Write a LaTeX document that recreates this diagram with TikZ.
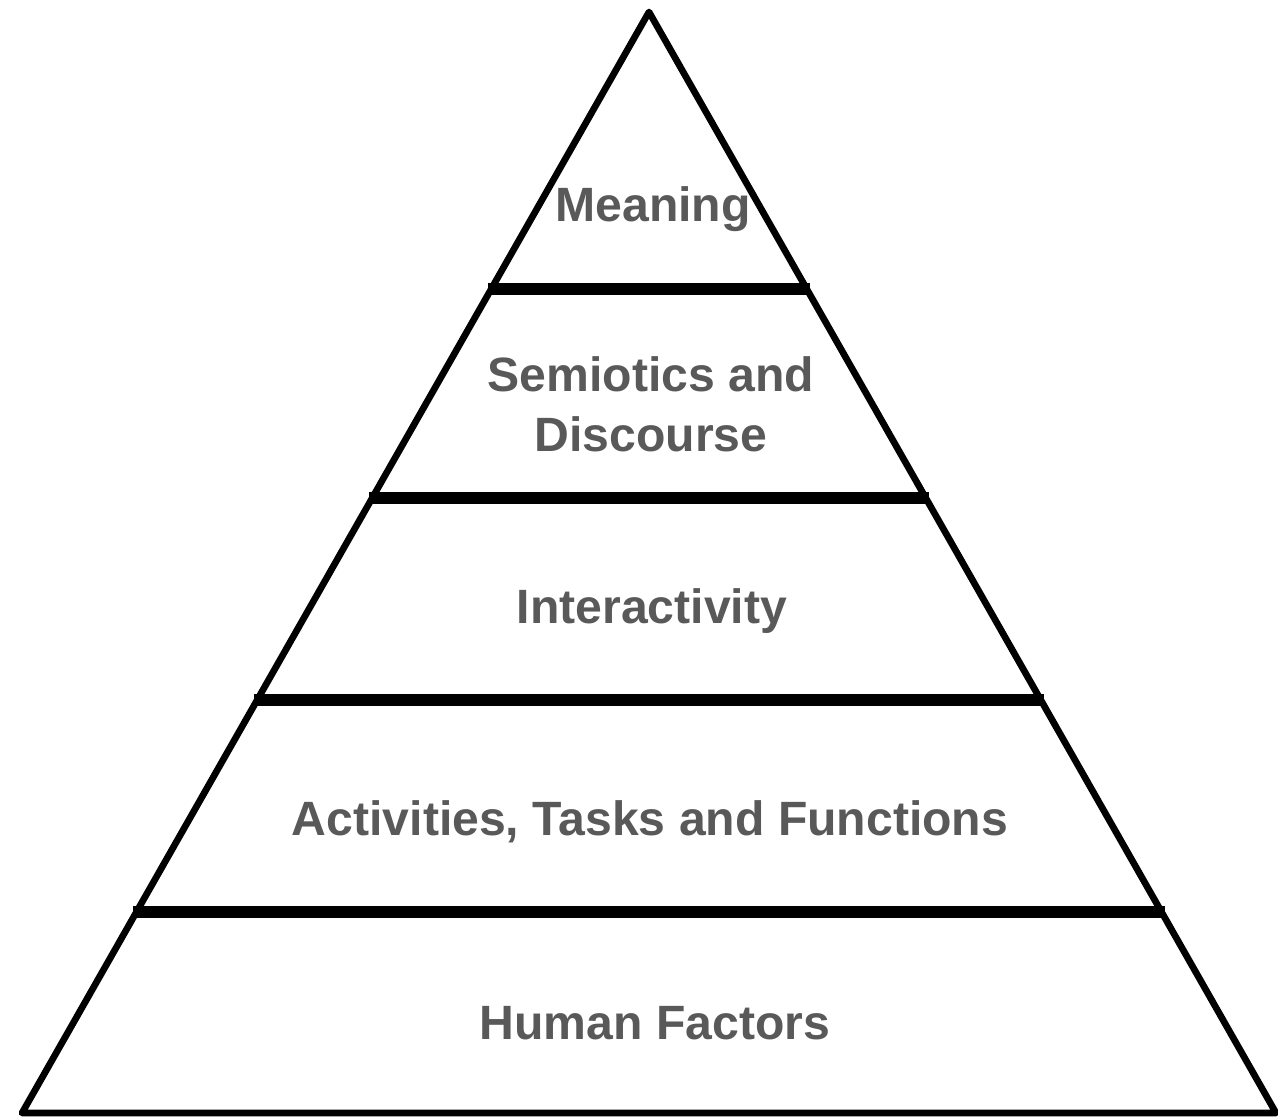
\documentclass[tikz,border=0pt]{standalone}
\usepackage{fontspec}
\setmainfont{Liberation Sans}
\usetikzlibrary{calc}
\definecolor{labelgray}{RGB}{89,89,89}
\tikzset{
    layer/.style={font=\fontsize{13.7}{17}\selectfont\bfseries, text=labelgray, align=center},
    side/.style={black, line width=1.9pt, line join=round},
    bar/.style={black, line width=3.6pt, shorten <=-0.03cm, shorten >=-0.03cm}
}

\begin{document}
\begin{tikzpicture}
        \useasboundingbox (0,0) rectangle (12.78,11.17);

        \coordinate (apex) at (6.49,11.05);
        \coordinate (bl) at (0.22,0.04);
        \coordinate (br) at (12.76,0.04);

        \draw [side] (bl) -- (apex) -- (br) -- cycle;

        \foreach \t [count=\k] in {0.2516,0.4414,0.6249,0.8174} {
            \coordinate (l\k) at ($(apex)!\t!(bl)$);
            \coordinate (r\k) at ($(apex)!\t!(br)$);
            \draw [bar] (l\k) -- (r\k);
        }

        \node [layer] (meaning) at (6.53,9.08) {Meaning};
        \node [layer] (semiotics) at (6.51,7.13) {Semiotics and\\Discourse};
        \node [layer] (interact) at (6.52,5.06) {Interactivity};
        \node [layer] (activities) at (6.50,2.95) {Activities, Tasks and Functions};
        \node [layer] (human) at (6.55,0.94) {Human Factors};
    \end{tikzpicture}
\end{document}
